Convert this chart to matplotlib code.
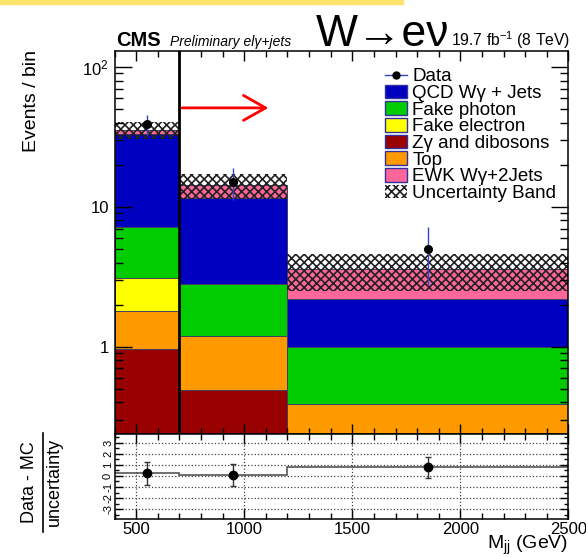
import numpy as np
import matplotlib.pyplot as plt
from matplotlib.patches import Patch, Rectangle
from matplotlib.lines import Line2D
from matplotlib.ticker import MultipleLocator, FixedLocator, FuncFormatter, LogLocator, NullFormatter

plt.rcParams['font.family'] = ['Liberation Sans', 'DejaVu Sans']
plt.rcParams['mathtext.fontset'] = 'custom'
plt.rcParams['mathtext.rm'] = 'Liberation Sans'
plt.rcParams['mathtext.it'] = 'Liberation Sans:italic'
plt.rcParams['hatch.linewidth'] = 1.2
plt.rcParams['axes.unicode_minus'] = False

# bins in M_jj (GeV)
edges = [400, 700, 1200, 2500]
data = [39, 15, 5]

# stacked backgrounds, bottom to top
zg_dibosons = [0.97, 0.49, 0.18]
top = [0.84, 0.71, 0.21]
fake_electron = [1.30, 0.0, 0.0]
fake_photon = [4.09, 1.59, 0.61]
qcd_wg = [26.2, 8.81, 1.20]
ewk_wg = [2.3, 2.7, 1.37]
mc_unc = [5.0, 2.9, 1.05]

# (data - MC) / uncertainty
pull = [0.25, 0.08, 0.78]
pull_err = [1.04, 1.0, 0.97]

cut = 700
arrow_end = 1125
arrow_y = 51

stack = {
    "Z\u03b3 and dibosons": (zg_dibosons, "#990000"),
    "Top": (top, "#ff9900"),
    "Fake electron": (fake_electron, "#ffff00"),
    "Fake photon": (fake_photon, "#00cc00"),
    "QCD W\u03b3 + Jets": (qcd_wg, "#0000c0"),
    "EWK W\u03b3+2Jets": (ewk_wg, "#ff6699"),
}
legend_order = ["QCD W\u03b3 + Jets", "Fake photon", "Fake electron",
                "Z\u03b3 and dibosons", "Top", "EWK W\u03b3+2Jets"]

edges_a = np.array(edges, dtype=float)
widths = np.diff(edges_a)
centers = edges_a[:-1] + widths / 2

fig = plt.figure(figsize=(5.86, 5.57), dpi=100)
ax = fig.add_axes([0.1954, 0.2208, 0.7747, 0.6876])
rax = fig.add_axes([0.1954, 0.0682, 0.7747, 0.1526])

ax.set_yscale('log')
bottom = np.zeros(3)
for label, (vals, color) in stack.items():
    vals = np.array(vals)
    ax.bar(edges_a[:-1], vals, width=widths, bottom=bottom, align='edge',
           color=color, edgecolor='#404060', linewidth=0.7)
    bottom = bottom + vals
total = bottom
unc = np.array(mc_unc)
ax.bar(edges_a[:-1], 2 * unc, width=widths, bottom=total - unc, align='edge',
       fill=False, hatch='xxxx', edgecolor='#222222', linewidth=0)

ax.errorbar(centers, data, yerr=np.sqrt(data), fmt='o', color='black',
            ms=5.5, ecolor='#3344cc', elinewidth=1, capsize=0, zorder=5)

ax.axvline(cut, color='black', lw=2, zorder=6)
ax.annotate('', xy=(arrow_end, arrow_y), xytext=(cut, arrow_y),
            arrowprops=dict(arrowstyle='->, head_length=0.8, head_width=0.45',
                            color='red', lw=2, mutation_scale=20))

ax.set_xlim(400, 2500)
ax.set_ylim(0.238, 130)
ax.yaxis.set_major_locator(FixedLocator([1, 10, 100]))
ax.yaxis.set_major_formatter(FuncFormatter(
    lambda v, p: {1: '1', 10: '10', 100: '$10^{2}$'}.get(int(round(v)), '')))
ax.yaxis.set_minor_locator(LogLocator(subs=np.arange(2, 10)))
ax.yaxis.set_minor_formatter(NullFormatter())
ax.xaxis.set_major_locator(MultipleLocator(500))
ax.xaxis.set_minor_locator(MultipleLocator(100))
ax.tick_params(axis='x', labelbottom=False)
ax.tick_params(which='both', direction='in', top=True, right=True, width=1)
ax.tick_params(axis='y', which='major', length=12, labelsize=12, pad=4)
ax.tick_params(axis='y', which='minor', length=6)
ax.tick_params(axis='x', which='major', length=7)
ax.tick_params(axis='x', which='minor', length=4)
for s in ax.spines.values():
    s.set_linewidth(1.1)

handles = [Line2D([], [], color='#3344cc', lw=1, marker='o', mfc='black',
                  mec='black', ms=5)]
labels = ["Data"]
for label in legend_order:
    handles.append(Patch(facecolor=stack[label][1], edgecolor='#3030a0', lw=1))
    labels.append(label)
handles.append(Patch(facecolor='white', edgecolor='#222222', hatch='xxxx', lw=0))
labels.append("Uncertainty Band")
leg = ax.legend(handles, labels, loc='upper left', bbox_to_anchor=(385 / 586, 1 - 68 / 557),
                bbox_transform=fig.transFigure, frameon=False, fontsize=13.5,
                borderpad=0, handlelength=1.15, handleheight=0.75,
                handletextpad=0.3, labelspacing=-0.04, borderaxespad=0)

# ratio panel
rax.stairs(pull, edges_a, baseline=None, color='#555555', lw=1.2)
rax.errorbar(centers, pull, yerr=pull_err, fmt='o', color='black', ms=6,
             ecolor='#333333', elinewidth=1, capsize=2.5, zorder=5)
rax.set_xlim(400, 2500)
rax.set_ylim(-3.9, 3.8)
rax.xaxis.set_major_locator(MultipleLocator(500))
rax.xaxis.set_minor_locator(MultipleLocator(100))
rax.yaxis.set_major_locator(MultipleLocator(1))
rax.yaxis.set_minor_locator(MultipleLocator(0.5))
rax.grid(True, which='major', ls=':', color='#444444', lw=0.9)
rax.tick_params(which='both', direction='in', top=True, right=True, width=1)
rax.tick_params(axis='x', which='major', length=7, labelsize=12, pad=2)
rax.tick_params(axis='x', which='minor', length=4)
rax.tick_params(axis='y', which='major', length=6, labelsize=8, pad=1, labelrotation=90)
rax.tick_params(axis='y', which='minor', length=3)
for t in rax.get_yticklabels():
    t.set_va('center')
for s in rax.spines.values():
    s.set_linewidth(1.1)

# labels and header
fig.text(32 / 586, 1 - 50 / 557, "Events / bin", rotation=90, ha='center', va='top', fontsize=14)
fig.text(30 / 586, 1 - 482 / 557, "Data - MC", rotation=90, ha='center', va='center', fontsize=13)
fig.text(54 / 586, 1 - 482 / 557, "uncertainty", rotation=90, ha='center', va='center', fontsize=13)
fig.add_artist(Line2D([43 / 586, 43 / 586], [1 - 433 / 557, 1 - 532 / 557],
                      transform=fig.transFigure, color='black', lw=1.2))
fig.text(568 / 586, 1 - 549 / 557, "M$_{\\rm jj}$ (GeV)", ha='right', va='baseline', fontsize=14)

base = 1 - 46 / 557
fig.text(116 / 586, base, "CMS", fontsize=14.5, fontweight='bold', va='baseline')
fig.text(170 / 586, base, "Preliminary el\u03b3+jets", fontsize=10, style='italic', va='baseline')
fig.text(316 / 586, base, "W\u2192e\u03bd", fontsize=32, va='baseline')
fig.text(570 / 586, base, "19.7 fb$^{-1}$ (8 TeV)", fontsize=11.3, ha='right', va='baseline')

fig.patches.append(Rectangle((0, 1 - 4 / 557), 403 / 586, 4 / 557, transform=fig.transFigure,
                             color='#fce36a', zorder=0))

fig.savefig("out.png", dpi=100)
